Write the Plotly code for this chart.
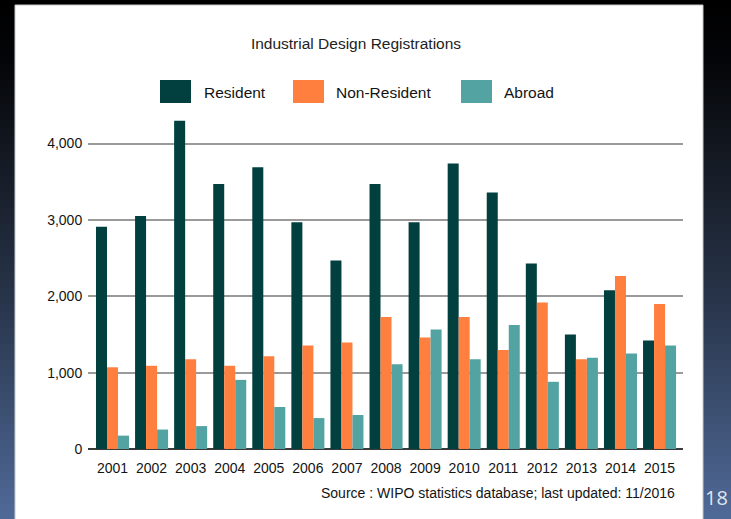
import plotly.graph_objects as go

years = ["2001", "2002", "2003", "2004", "2005", "2006", "2007", "2008",
         "2009", "2010", "2011", "2012", "2013", "2014", "2015"]
resident = [2910, 3050, 4300, 3470, 3690, 2970, 2470, 3470, 2970, 3740, 3360, 2430, 1500, 2080, 1420]
non_resident = [1070, 1090, 1175, 1090, 1215, 1355, 1395, 1730, 1460, 1730, 1295, 1920, 1175, 2265, 1900]
abroad = [175, 255, 300, 905, 550, 405, 445, 1110, 1565, 1175, 1625, 880, 1195, 1250, 1355]

series_names = ["Resident", "Non-Resident", "Abroad"]
colors = ["#023f3f", "#ff7f3f", "#53a3a2"]

W, H = 731, 519
L, R, T, B = 88, 48, 113, 70
PW, PH = W - L - R, H - T - B
FONT = "Liberation Sans, Arial, sans-serif"


def px(x):
    return (x - L) / PW


def py(y):
    return (H - B - y) / PH


fig = go.Figure()
for name, vals, c in zip(series_names, [resident, non_resident, abroad], colors):
    fig.add_trace(go.Bar(x=years, y=vals, name=name, marker=dict(color=c, line=dict(width=0)),
                         showlegend=False))

shapes = []
# background gradient (style only)
stops = [(0, (0, 0, 0)), (60, (4, 5, 8)), (170, (22, 28, 38)), (300, (40, 52, 74)), (519, (80, 106, 152))]


def col_at(y):
    for (y0, c0), (y1, c1) in zip(stops[:-1], stops[1:]):
        if y0 <= y <= y1:
            t = (y - y0) / (y1 - y0)
            return "rgb(%d,%d,%d)" % tuple(round(a + (b - a) * t) for a, b in zip(c0, c1))
    return "rgb(80,106,152)"


band = 8
for y0 in range(0, H, band):
    shapes.append(dict(type="rect", xref="paper", yref="paper", layer="below",
                       x0=px(0), x1=px(W), y0=py(y0), y1=py(y0 + band + 1),
                       fillcolor=col_at(y0 + band / 2), line=dict(width=0)))
# white panel
shapes.append(dict(type="rect", xref="paper", yref="paper", layer="below",
                   x0=px(15), x1=px(703), y0=py(5), y1=py(H + 5),
                   fillcolor="white", line=dict(color="#c8c8c8", width=1)))
# legend swatches
legend_pos = [(160, 202), (293, 334), (461, 502)]
for (sx, tx), c in zip(legend_pos, colors):
    shapes.append(dict(type="rect", xref="paper", yref="paper", layer="above",
                       x0=px(sx), x1=px(sx + 31), y0=py(80), y1=py(103),
                       fillcolor=c, line=dict(width=0)))

annotations = []
for (sx, tx), name in zip(legend_pos, series_names):
    annotations.append(dict(text=name, xref="paper", yref="paper", x=px(tx), y=py(92),
                            xanchor="left", yanchor="middle", showarrow=False,
                            font=dict(family=FONT, size=15.5, color="#141414")))
annotations.append(dict(text="Source : WIPO statistics database; last updated: 11/2016",
                        xref="paper", yref="paper", x=px(677), y=py(493),
                        xanchor="right", yanchor="middle", showarrow=False,
                        font=dict(family=FONT, size=14, color="#141414")))
annotations.append(dict(text="18", xref="paper", yref="paper", x=px(730), y=py(497),
                        xanchor="right", yanchor="middle", showarrow=False,
                        font=dict(family="Open Sans, sans-serif", size=20, color="#dfe6f0")))

fig.update_layout(
    width=W, height=H,
    margin=dict(l=L, r=R, t=T, b=B, pad=0),
    paper_bgcolor="black",
    plot_bgcolor="rgba(0,0,0,0)",
    barmode="group", bargap=0.155, bargroupgap=0,
    title=dict(text="Industrial Design Registrations", x=356 / W, xanchor="center",
               y=1 - 44 / H, yanchor="middle", font=dict(family=FONT, size=15.5, color="#222222")),
    font=dict(family=FONT, color="#141414"),
    shapes=shapes,
    annotations=annotations,
    xaxis=dict(type="category", range=[-0.627, 14.6], showgrid=False, showline=False, zeroline=False,
               ticks="outside", ticklen=6, tickcolor="rgba(0,0,0,0)",
               tickfont=dict(family=FONT, size=14, color="#141414")),
    yaxis=dict(range=[0, 4400], dtick=1000, tickformat=",d", showgrid=True,
               gridcolor="#9a9a9a", gridwidth=1.5, zeroline=True, zerolinecolor="#3a3a3a",
               zerolinewidth=2, showline=False, ticks="outside", ticklen=2,
               tickcolor="rgba(0,0,0,0)",
               tickfont=dict(family=FONT, size=14, color="#141414")),
)

fig.write_html("out.html", config={"displayModeBar": False},
               post_script="document.body.style.margin='0';document.body.style.overflow='hidden';"
                           "document.body.style.background='black';")
